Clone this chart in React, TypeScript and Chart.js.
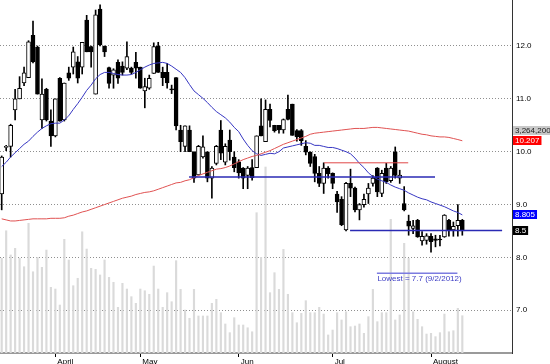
import React, { useEffect, useRef } from "react";
import { Chart, registerables } from "chart.js";

Chart.register(...registerables);

// ---- data ----
const opens = [
  9.2, 10.08, 10.1, 10.79, 11.0, 11.3, 11.4, 12.2, 11.98, 10.6,
  11.18, 10.58, 10.3, 11.39, 10.6, 11.49, 11.6, 11.7, 11.6, 12.49,
  11.99, 11.09, 12.7, 12.0, 11.59, 11.45, 11.69, 11.62, 11.58, 11.58,
  11.69, 11.6, 11.15, 11.2, 11.48, 12.0, 11.5, 11.5, 11.19, 11.4,
  10.41, 10.1, 10.41, 10.0, 9.56, 9.9, 10.0, 9.5, 9.78, 10.41,
  9.8, 10.22, 9.9, 9.81, 9.69, 9.55, 9.7, 9.7, 10.49, 10.19,
  10.8, 10.5, 10.5, 10.41, 10.8, 10.9, 10.4, 10.4, 10.1, 9.99,
  9.91, 9.59, 9.4, 9.69, 9.59, 9.2, 9.1, 8.52, 9.4, 9.31,
  8.9, 9.0, 9.2, 9.4, 9.69, 9.21, 9.69, 9.45, 10.0, 9.5,
  9.02, 8.69, 8.55, 8.7, 8.31, 8.32, 8.4, 8.35, 8.34, 8.39,
  8.7, 8.52, 8.6, 8.7,
];
const highs = [
  9.92, 10.12, 10.52, 11.18, 11.42, 11.6, 12.1, 12.47, 12.0, 11.38,
  11.2, 10.79, 11.0, 11.4, 11.3, 11.6, 11.98, 11.8, 12.07, 12.58,
  12.0, 12.68, 12.78, 12.0, 11.6, 11.57, 11.74, 11.7, 12.08, 11.6,
  11.88, 11.6, 11.39, 11.45, 12.06, 12.07, 11.6, 11.67, 11.26, 11.4,
  10.5, 10.49, 10.49, 10.0, 10.12, 10.3, 10.0, 9.72, 10.12, 10.59,
  10.15, 10.41, 10.0, 9.85, 9.7, 9.72, 9.85, 10.3, 11.0, 10.98,
  10.9, 10.5, 10.5, 10.62, 11.07, 10.9, 10.42, 10.42, 10.21, 10.0,
  9.95, 9.72, 9.79, 9.72, 9.6, 9.25, 9.15, 9.42, 9.67, 9.33,
  9.02, 9.2, 9.4, 9.55, 9.7, 9.65, 9.78, 9.72, 10.09, 9.65,
  9.34, 8.8, 8.7, 8.72, 8.49, 8.45, 8.45, 8.42, 8.42, 8.81,
  8.72, 8.67, 9.0, 8.72,
];
const lows = [
  8.9, 10.02, 9.9, 10.6, 11.0, 11.25, 11.4, 11.68, 11.09, 10.44,
  10.58, 10.1, 10.28, 10.58, 10.58, 11.35, 11.47, 11.3, 11.47, 11.89,
  11.6, 11.09, 12.0, 11.8, 11.2, 11.2, 11.29, 11.45, 11.55, 11.47,
  11.39, 11.2, 10.83, 11.18, 11.48, 11.5, 11.25, 11.2, 11.1, 10.41,
  10.0, 10.0, 10.0, 9.42, 9.56, 9.88, 9.43, 9.12, 9.75, 9.85,
  9.75, 9.84, 9.62, 9.5, 9.3, 9.3, 9.46, 9.7, 10.3, 10.19,
  10.47, 10.37, 10.35, 10.35, 10.6, 10.31, 10.2, 10.12, 9.94, 9.72,
  9.43, 9.34, 9.21, 9.5, 9.3, 8.85, 8.6, 8.5, 9.15, 8.86,
  8.71, 8.95, 9.02, 9.35, 9.15, 9.15, 9.4, 9.42, 9.5, 9.4,
  8.88, 8.42, 8.45, 8.38, 8.23, 8.25, 8.1, 8.2, 8.22, 8.38,
  8.4, 8.4, 8.4, 8.42,
];
const closes = [
  9.9, 10.1, 10.5, 11.0, 11.2, 11.49, 12.08, 11.7, 11.09, 11.09,
  10.6, 10.3, 11.0, 10.58, 11.3, 11.39, 11.89, 11.39, 12.07, 11.89,
  11.89, 12.59, 12.02, 11.89, 11.29, 11.55, 11.39, 11.5, 11.8, 11.5,
  11.58, 11.2, 11.23, 11.39, 11.99, 11.5, 11.4, 11.3, 11.17, 10.49,
  10.19, 10.49, 10.0, 9.5, 10.1, 10.09, 9.5, 9.69, 10.1, 9.97,
  10.1, 10.0, 9.7, 9.6, 9.5, 9.69, 9.51, 10.3, 10.3, 10.8,
  10.59, 10.4, 10.41, 10.61, 10.61, 10.31, 10.28, 10.21, 9.99, 9.78,
  9.59, 9.4, 9.69, 9.58, 9.4, 9.05, 8.62, 9.4, 9.31, 8.9,
  9.0, 9.1, 9.31, 9.5, 9.24, 9.59, 9.43, 9.69, 9.55, 9.56,
  8.9, 8.59, 8.6, 8.39, 8.4, 8.41, 8.3, 8.32, 8.33, 8.8,
  8.52, 8.59, 8.7, 8.5,
];
const volumes = [
  8290000, 10700000, 8580000, 9160000, 8290000, 7550000, 11350000, 7110000, 8370000, 7500000,
  9010000, 5750000, 5600000, 4200000, 9950000, 8140000, 5890000, 6540000, 10610000, 9100000,
  7410000, 7320000, 6830000, 8140000, 6620000, 6190000, 4000000, 6100000, 5600000, 4930000,
  4350000, 5600000, 5450000, 5140000, 7610000, 5600000, 4000000, 5280000, 4490000, 8080000,
  5570000, 3760000, 3040000, 5570000, 3240000, 3240000, 3240000, 4350000, 4700000, 3530000,
  2540000, 1780000, 3090000, 2450000, 2450000, 2210000, 1860000, 12280000, 8370000, 16280000,
  5280000, 7030000, 5570000, 9070000, 5140000, 3530000, 2650000, 3470000, 4580000, 3530000,
  3530000, 4000000, 3410000, 1580000, 2010000, 3530000, 2890000, 3610000, 2300000, 2360000,
  2540000, 1720000, 3180000, 5570000, 2740000, 3530000, 3530000, 11700000, 2890000, 3330000,
  9600000, 8290000, 3610000, 2950000, 2300000, 1660000, 1720000, 1430000, 1780000, 3410000,
  1860000, 1950000, 3910000, 3264200,
];
const maShort = [
  9.72, 9.8, 9.9, 9.98, 10.06, 10.14, 10.2, 10.29, 10.37, 10.44,
  10.49, 10.53, 10.54, 10.54, 10.6, 10.68, 10.8, 10.91, 11.03, 11.16,
  11.26, 11.38, 11.46, 11.5, 11.5, 11.48, 11.46, 11.45, 11.45, 11.46,
  11.5, 11.55, 11.6, 11.64, 11.67, 11.68, 11.69, 11.67, 11.62, 11.56,
  11.5, 11.4, 11.27, 11.15, 11.08, 11.01, 10.93, 10.84, 10.76, 10.7,
  10.64, 10.56, 10.46, 10.38, 10.24, 10.12, 10.02, 9.96, 9.93, 9.95,
  9.97, 9.96, 10.0, 10.07, 10.09, 10.11, 10.13, 10.15, 10.17, 10.16,
  10.12, 10.12, 10.1, 10.08, 10.08, 10.06, 10.03, 10.0, 9.96, 9.88,
  9.78, 9.7, 9.6, 9.53, 9.48, 9.45, 9.42, 9.37, 9.33, 9.3,
  9.27, 9.22, 9.18, 9.14, 9.11, 9.09, 9.05, 9.02, 8.99, 8.96,
  8.92, 8.88, 8.85, 8.805,
];
const maLong = [
  8.73, 8.71, 8.69, 8.69, 8.7, 8.71, 8.72, 8.73, 8.73, 8.73,
  8.73, 8.74, 8.74, 8.74, 8.75, 8.78, 8.8, 8.83, 8.86, 8.88,
  8.91, 8.94, 8.97, 9.0, 9.03, 9.06, 9.09, 9.12, 9.14, 9.16,
  9.19, 9.21, 9.23, 9.24, 9.26, 9.29, 9.32, 9.35, 9.38, 9.41,
  9.42, 9.45, 9.47, 9.51, 9.55, 9.58, 9.61, 9.64, 9.67, 9.68,
  9.7, 9.73, 9.77, 9.81, 9.85, 9.88, 9.91, 9.93, 9.96, 9.99,
  10.02, 10.06, 10.1, 10.14, 10.17, 10.2, 10.23, 10.26, 10.29, 10.33,
  10.35, 10.36, 10.37, 10.38, 10.39, 10.4, 10.41, 10.42, 10.43, 10.44,
  10.44, 10.44, 10.45, 10.46, 10.46, 10.45, 10.44, 10.43, 10.42, 10.41,
  10.4, 10.39, 10.37, 10.35, 10.33, 10.32, 10.3, 10.29, 10.28, 10.28,
  10.27, 10.25, 10.23, 10.207,
];
const monthStarts = [12, 31, 53, 74, 96];
const monthNames = ["April", "May", "Jun", "Jul", "August"];
const priceTicks = [7, 8, 9, 10, 11, 12];
const levelValues = [9.52, 9.79, 8.51];
const levelFrom = [41.9, 72.1, 77.9];
const levelTo = [96.9, 90.9, 111.9];
const lowestValue = 7.7;
const lowestFrom = 83.9;
const lowestTo = 101.9;
const lowestText = "Lowest = 7.7 (9/2/2012)";

const FONT = '"Liberation Sans", Arial, sans-serif';
const levelColors = ["#2a2ab4", "#e04848", "#2a2ab4"];
const levelWidths = [1.5, 1, 1.5];

function withCommas(v: number) {
  return String(v).replace(/\B(?=(\d{3})+(?!\d))/g, ",");
}

const overlayPlugin = {
  id: "overlayPlugin",
  afterDraw(chart: any) {
    const { ctx, chartArea, scales } = chart;
    const y = scales.y;
    const x = scales.x;
    ctx.save();
    ctx.font = `8px ${FONT}`;
    ctx.textBaseline = "middle";
    ctx.textAlign = "left";
    // lowest annotation text
    ctx.fillStyle = "#3c3cc4";
    ctx.fillText(lowestText, x.getPixelForValue(lowestFrom) + 0.5, y.getPixelForValue(lowestValue) + 6);

    const left = chartArea.right;
    const last = closes.length - 1;
    const drawBox = (cy: number, text: string, bg: string, fg: string) => {
      const w = ctx.measureText(text).width + 4;
      const top = Math.round(cy - 4.5);
      ctx.fillStyle = bg;
      ctx.fillRect(left + 1, top, w, 9);
      ctx.fillStyle = fg;
      ctx.fillText(text, left + 3, top + 5);
    };
    const redY = y.getPixelForValue(maLong[last]);
    drawBox(redY - 10, withCommas(volumes[last]), "#c8c8c8", "#202020");
    drawBox(redY, String(maLong[last]), "#ff0000", "#ffffff");
    drawBox(y.getPixelForValue(maShort[last]), String(maShort[last]), "#0000ff", "#ffffff");
    drawBox(y.getPixelForValue(closes[last]), String(closes[last]), "#000000", "#ffffff");
    ctx.restore();
  },
};

export default function App() {
  const canvasRef = useRef<HTMLCanvasElement | null>(null);

  useEffect(() => {
    if (!canvasRef.current) return;
    const idx = closes.map((_, i) => i);
    const levelSets = levelValues.map((v, k) => ({
      type: "line" as const,
      data: [
        { x: levelFrom[k], y: v },
        { x: levelTo[k], y: v },
      ],
      borderColor: levelColors[k],
      borderWidth: levelWidths[k],
      pointRadius: 0,
      yAxisID: "y",
      order: 2,
    }));

    const chart = new Chart(canvasRef.current, {
      type: "bar",
      data: {
        datasets: [
          {
            type: "bar",
            data: idx.map((i) => ({ x: i, y: volumes[i] })),
            backgroundColor: "#dadada",
            barThickness: 1.5,
            grouped: false,
            yAxisID: "yVol",
            order: 10,
          } as any,
          {
            type: "bar",
            data: idx.map((i) => ({ x: i, y: [lows[i], highs[i]] })),
            backgroundColor: "#000000",
            barThickness: 1,
            grouped: false,
            yAxisID: "y",
            order: 6,
          } as any,
          {
            type: "bar",
            data: idx.map((i) => ({ x: i, y: [opens[i], closes[i]] })),
            backgroundColor: idx.map((i) => (closes[i] >= opens[i] ? "#ffffff" : "#000000")),
            borderColor: "#000000",
            borderWidth: 1,
            borderSkipped: false,
            minBarLength: 1,
            barThickness: 4,
            grouped: false,
            yAxisID: "y",
            order: 5,
          } as any,
          {
            type: "line",
            data: idx.map((i) => ({ x: i, y: maLong[i] })),
            borderColor: "#e05252",
            borderWidth: 1,
            pointRadius: 0,
            yAxisID: "y",
            order: 3,
          } as any,
          {
            type: "line",
            data: idx.map((i) => ({ x: i, y: maShort[i] })),
            borderColor: "#3636c2",
            borderWidth: 1,
            pointRadius: 0,
            yAxisID: "y",
            order: 3,
          } as any,
          ...(levelSets as any[]),
          {
            type: "line",
            data: [
              { x: lowestFrom, y: lowestValue },
              { x: lowestTo, y: lowestValue },
            ],
            borderColor: "#7c7ce0",
            borderWidth: 1.5,
            pointRadius: 0,
            yAxisID: "y",
            order: 2,
          } as any,
        ],
      },
      options: {
        responsive: false,
        devicePixelRatio: 1,
        animation: false,
        events: [],
        layout: { padding: 0 },
        plugins: { legend: { display: false }, tooltip: { enabled: false } },
        font: { family: FONT, size: 8 },
        scales: {
          x: {
            type: "linear",
            min: -0.38,
            max: 114.11,
            offset: false,
            afterBuildTicks: (axis: any) => {
              axis.ticks = monthStarts.map((v) => ({ value: v }));
            },
            afterFit: (axis: any) => {
              axis.height = 11;
              axis.paddingLeft = 0;
              axis.paddingRight = 0;
            },
            ticks: {
              autoSkip: false,
              maxRotation: 0,
              minRotation: 0,
              align: "start",
              padding: 0,
              labelOffset: 2,
              color: "#000",
              font: { family: FONT, size: 8 },
              callback: (v: any) => {
                const k = monthStarts.indexOf(Number(v));
                return k >= 0 ? monthNames[k] : "";
              },
            },
            grid: { drawOnChartArea: false, drawTicks: true, tickLength: 4, tickColor: "#000", color: "#000", offset: false },
            border: { display: true, color: "#9a9a9a", width: 2 },
          } as any,
          y: {
            position: "right",
            min: 6.192,
            max: 12.87,
            afterBuildTicks: (axis: any) => {
              axis.ticks = priceTicks.map((v) => ({ value: v }));
            },
            afterFit: (axis: any) => {
              axis.width = 38;
              axis.paddingTop = 0;
              axis.paddingBottom = 0;
            },
            ticks: {
              padding: 4,
              color: "#000",
              font: { family: FONT, size: 8 },
              callback: (v: any) => Number(v).toFixed(1),
            },
            grid: { drawTicks: false, color: "#8f8f8f", lineWidth: 1 },
            border: { display: true, color: "#333333", width: 1, dash: [1, 2] },
          } as any,
          yVol: {
            display: false,
            min: 0,
            max: 30900000,
          },
        },
      } as any,
      plugins: [overlayPlugin],
    });
    return () => chart.destroy();
  }, []);

  return (
    <div style={{ position: "fixed", left: 0, top: 0, width: 550, height: 364, background: "#ffffff" }}>
      <canvas ref={canvasRef} width={550} height={364} style={{ display: "block" }} />
    </div>
  );
}
